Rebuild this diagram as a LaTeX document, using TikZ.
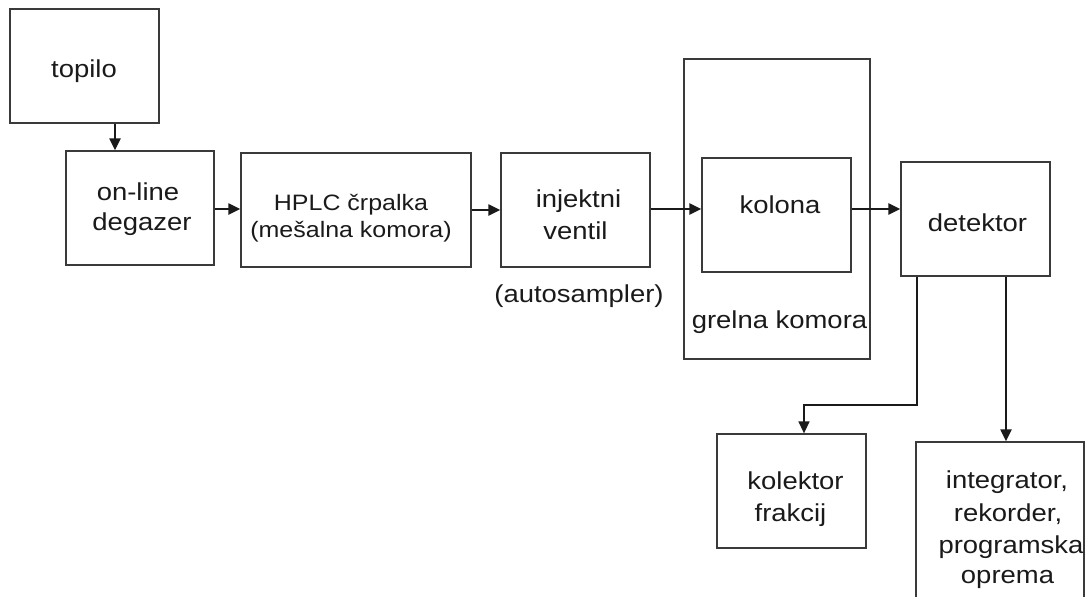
\documentclass[tikz,border=0pt]{standalone}
\usepackage{fontspec}
\setmainfont[FakeStretch=1.12]{Liberation Sans}
\usetikzlibrary{arrows.meta}
\definecolor{boxline}{HTML}{3A3A3A}
\definecolor{ink}{HTML}{1A1A1A}
\tikzset{
  box/.style={draw=boxline, line width=1.3pt, inner sep=0pt, rectangle},
  arr/.style={draw=ink, line width=2.2pt, -{Triangle[length=12pt,width=11pt]}},
  thinarr/.style={draw=ink, line width=1.5pt, -{Triangle[length=12pt,width=11pt]}},
  lbl/.style={anchor=base, inner sep=0pt, text=ink, font=\fontsize{24.5}{32}\selectfont},
  lblsmall/.style={anchor=base, inner sep=0pt, text=ink, font=\fontsize{22.3}{27}\selectfont}
}
\begin{document}
\begin{tikzpicture}[x=1pt, y=-1pt]
\clip (0,0) rectangle (1088,597);
\fill[white] (0,0) rectangle (1088,597);

% boxes
\node[box, minimum width=149pt, minimum height=114pt] (topilo) at (84.5,66) {};
\node[box, minimum width=148pt, minimum height=114pt] (degazer) at (140,208) {};
\node[box, minimum width=230pt, minimum height=114pt] (hplc) at (356,210) {};
\node[box, minimum width=149pt, minimum height=114pt] (injekt) at (575.5,210) {};
\node[box, minimum width=186pt, minimum height=300pt] (grelna) at (777,209) {};
\node[box, minimum width=149pt, minimum height=114pt] (kolona) at (776.5,215) {};
\node[box, minimum width=149pt, minimum height=114pt] (detektor) at (975.5,219) {};
\node[box, minimum width=149pt, minimum height=114pt] (kolektor) at (791.5,491) {};
\node[box, minimum width=168pt, minimum height=170pt] (integrator) at (1000,527) {};

% labels
\node[lbl] (t1) at (84,77) {topilo};
\node[lbl] (t2) at (138,200) {on-line};
\node[lbl] (t3) at (142,230) {degazer};
\node[lblsmall] (t4) at (351,210) {HPLC črpalka};
\node[lblsmall] (t5) at (351,237) {(mešalna komora)};
\node[lbl] (t6) at (578.5,207) {injektni};
\node[lbl] (t7) at (575.5,239) {ventil};
\node[lbl] (t8) at (780,213) {kolona};
\node[lbl] (t9) at (579,302) {(autosampler)};
\node[lbl] (t10) at (779.5,328) {grelna komora};
\node[lbl] (t11) at (977.5,231) {detektor};
\node[lbl] (t12) at (795.5,489) {kolektor};
\node[lbl] (t13) at (790.5,521) {frakcij};
\node[lbl] (t14) at (1007,488) {integrator,};
\node[lbl] (t15) at (1008,521) {rekorder,};
\node[lbl] (t16) at (1011,553) {programska};
\node[lbl] (t17) at (1007.5,583) {oprema};

% connectors
\draw[arr] (115,0 |- topilo.south) -- (115,0 |- degazer.north);
\draw[arr] (degazer.east |- 0,209) -- (hplc.west |- 0,209);
\draw[arr] (hplc.east |- 0,210) -- (injekt.west |- 0,210);
\draw[arr] (injekt.east |- 0,209) -- (kolona.west |- 0,209);
\draw[arr] (kolona.east |- 0,209) -- (detektor.west |- 0,209);
\draw[thinarr] (917,0 |- detektor.south) |- (804,405) -- (804,0 |- kolektor.north);
\draw[arr] (1006,0 |- detektor.south) -- (1006,0 |- integrator.north);
\end{tikzpicture}
\end{document}
